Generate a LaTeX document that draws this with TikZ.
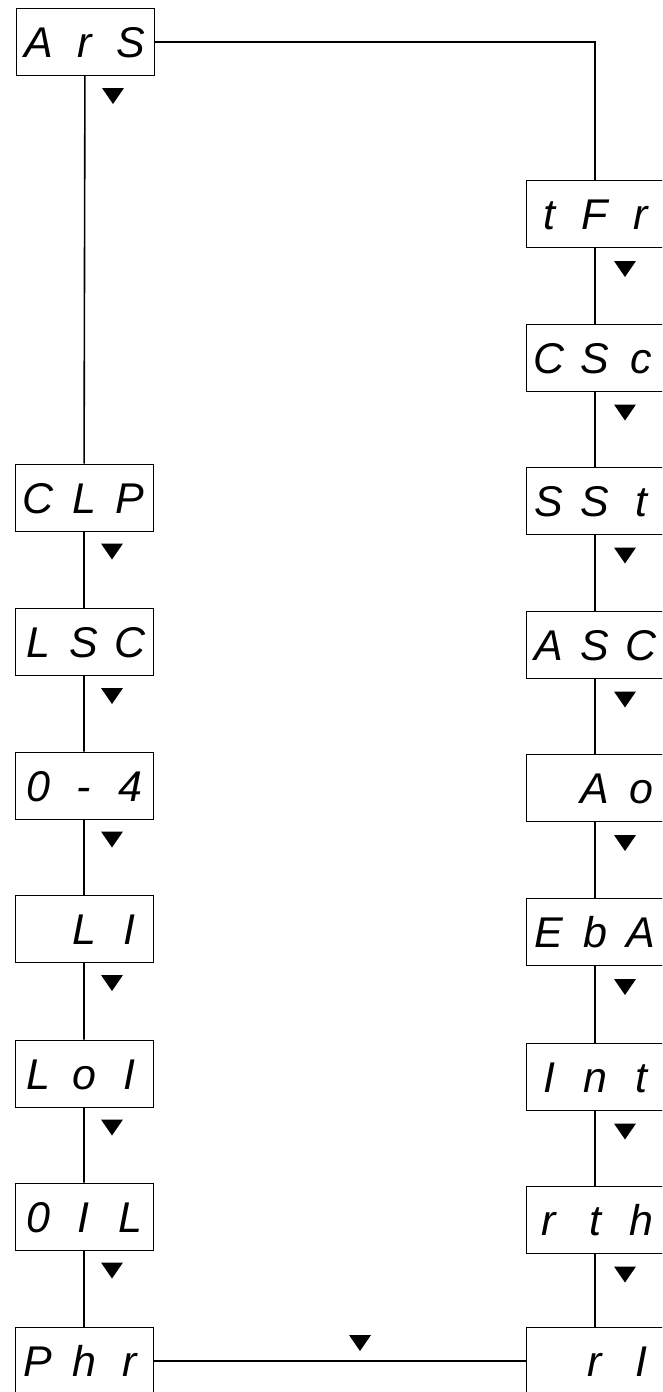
\documentclass[tikz,border=0pt]{standalone}
\usepackage{fontspec}
\setsansfont{Liberation Sans}
\usetikzlibrary{calc}
\newcommand{\lcd}[3]{\makebox[46pt]{#1}\makebox[46pt]{#2}\makebox[46pt]{#3}}
\tikzset{
  disp/.style={draw, line width=1pt, minimum width=138pt, minimum height=67pt,
    inner sep=0pt, font=\sffamily\itshape\fontsize{43}{43}\selectfont,
    text height=31pt, text depth=0pt},
  conn/.style={line width=1.6pt},
  tri/.pic={\fill (-11,0) -- (11,0) -- (0,-16) -- cycle;}
}
\begin{document}
\begin{tikzpicture}[x=1pt,y=1pt]
\useasboundingbox (0,0) rectangle (662,-1392);
\clip (0,0) rectangle (662,-1392);
% left column
\node[disp] (ars) at (85,-42)     {\lcd{A}{r}{S}};
\node[disp] (clp) at (84,-497.5)  {\lcd{C}{L}{P}};
\node[disp] (lsc) at (84,-642)    {\lcd{L}{S}{C}};
\node[disp] (o4)  at (84,-785.5)  {\lcd{0}{-}{4}};
\node[disp] (li)  at (84,-929)    {\lcd{}{L}{I}};
\node[disp] (loi) at (84,-1073.5) {\lcd{L}{o}{I}};
\node[disp] (oil) at (84,-1216.5) {\lcd{0}{I}{L}};
\node[disp] (phr) at (84,-1361)   {\lcd{P}{h}{r}};
% right column
\node[disp] (tfr) at (595,-214)    {\lcd{t}{F}{r}};
\node[disp] (csc) at (595,-357.5)  {\lcd{C}{S}{c}};
\node[disp] (sst) at (595,-500.5)  {\lcd{S}{S}{t}};
\node[disp] (asc) at (595,-644.5)  {\lcd{A}{S}{C}};
\node[disp] (ao)  at (595,-788)    {\lcd{}{A}{o}};
\node[disp] (eba) at (595,-932)    {\lcd{E}{b}{A}};
\node[disp] (int) at (595,-1076.5) {\lcd{I}{n}{t}};
\node[disp] (rth) at (595,-1219.5) {\lcd{r}{t}{h}};
\node[disp] (ri)  at (595,-1361)   {\lcd{}{r}{I}};
% connectors
\draw[conn] (ars) -- (clp) -- (lsc) -- (o4) -- (li) -- (loi) -- (oil) -- (phr);
\draw[conn] (ars.east) -| (tfr.north);
\draw[conn] (tfr) -- (csc) -- (sst) -- (asc) -- (ao) -- (eba) -- (int) -- (rth) -- (ri);
\draw[conn] (phr.east) -- (ri.west);
% arrowheads
\foreach \n in {ars,clp,lsc,o4,li,loi,oil}
  \pic at ($(\n.south)+(28,-12)$) {tri};
\foreach \n in {tfr,csc,sst,asc,ao,eba,int,rth}
  \pic at ($(\n.south)+(30,-13)$) {tri};
\pic at (360,-1335) {tri};
\end{tikzpicture}
\end{document}
